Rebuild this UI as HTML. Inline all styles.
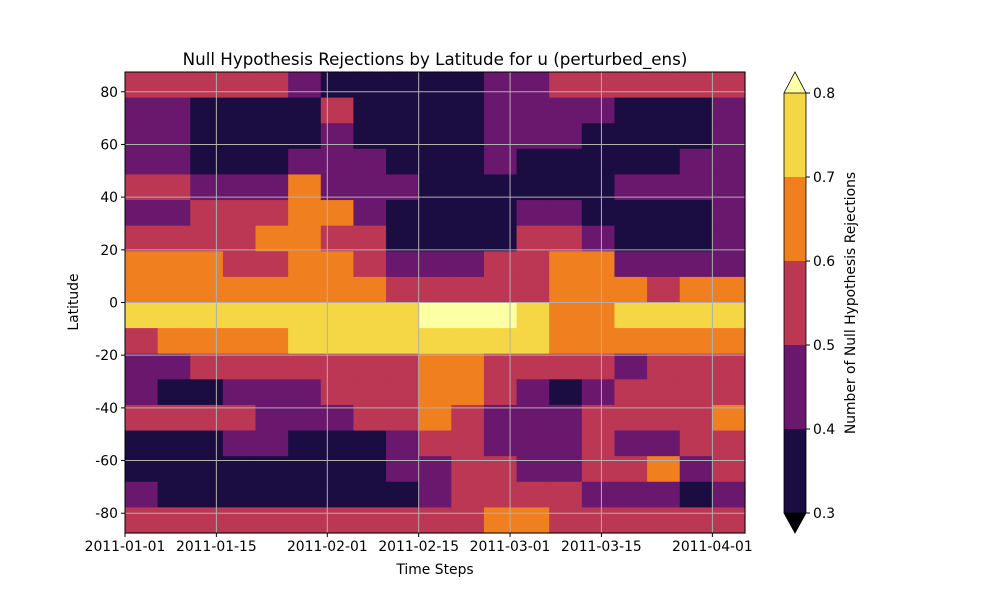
<!DOCTYPE html>
<html><head><meta charset="utf-8"><style>
body{margin:0;background:#fff;font-family:"DejaVu Sans","Liberation Sans",sans-serif;}
svg text{font-family:"DejaVu Sans","Liberation Sans",sans-serif;fill:#000;}
</style></head><body>
<svg id="chart" width="1000" height="600" xmlns="http://www.w3.org/2000/svg">
<text x="435" y="65" font-size="16.7" text-anchor="middle">Null Hypothesis Rejections by Latitude for u (perturbed_ens)</text>
<g id="plot"></g>
<g id="axes"></g>
<text x="435" y="574" font-size="13.9" text-anchor="middle">Time Steps</text>
<text x="78" y="302" font-size="13.9" text-anchor="middle" transform="rotate(-90 78 302)">Latitude</text>
<g id="cbar"></g>
<text x="855" y="303" font-size="13.9" text-anchor="middle" transform="rotate(-90 855 303)">Number of Null Hypothesis Rejections</text>
</svg>
<script>
// Data: rows from north (87.5) to south (-87.5), 18 bands; columns are 5-day steps from 2011-01-01
const latEdgesTop = 87.5, latEdgesBottom = -87.5;
const dayStart = 0, dayEnd = 95, dayStep = 5;
const rowCodes = [
"RRRRRPDDDDDPPRRRRRR",
"PPDDDDRDDDDPPPPDDDP",
"PPDDDDPDDDDPPPDDDDP",
"PPDDDPPPDDDPDDDDDPP",
"RRPPPOPPPDDDDDDPPPP",
"PPRRROOPDDDDPPDDDDP",
"RRRROORRDDDDRRPDDDP",
"OOORROORPPPRROOPPPP",
"OOOOOOOORRRRROOOROO",
"YYYYYYYYYLLLYOOYYYY",
"ROOOOYYYYYYYYOOOOOO",
"PPRRRRRRROORRRRPRRR",
"PDDPPPRRROORPDPRRRR",
"RRRRPPPRRORPPPRRRRO",
"DDDPPDDDPRRPPPRPPRR",
"DDDDDDDDPPRRPPRROPR",
"PDDDDDDDDPRRRRPPPDP",
"RRRRRRRRRRROORRRRRR"];
const codeValues = {D:0.35,P:0.45,R:0.55,O:0.65,Y:0.75,L:0.85};
const levels = [0.3,0.4,0.5,0.6,0.7,0.8];
const levelColors = ["#000004","#1b0c41","#6a176e","#bb3754","#f07f1f","#f5d745","#fcffa4"];
const yTicks = [-80,-60,-40,-20,0,20,40,60,80];
const xTickDays = [0,14,31,45,59,73,90];
const xTickLabels = ["2011-01-01","2011-01-15","2011-02-01","2011-02-15","2011-03-01","2011-03-15","2011-04-01"];
const cbTicks = [0.3,0.4,0.5,0.6,0.7,0.8];

const NS="http://www.w3.org/2000/svg";
const X0=125,X1=745,Y0=72,Y1=533;
const xs=d=>X0+(d-dayStart)/(dayEnd-dayStart)*(X1-X0);
const ys=l=>Y0+(latEdgesTop-l)/(latEdgesTop-latEdgesBottom)*(Y1-Y0);
function color(v){let i=0;while(i<levels.length&&v>=levels[i])i++;return levelColors[i];}
function mk(tag,attrs,parent){const e=document.createElementNS(NS,tag);for(const k in attrs)e.setAttribute(k,attrs[k]);parent.appendChild(e);return e;}
const plot=document.getElementById('plot'),axes=document.getElementById('axes'),cb=document.getElementById('cbar');
const nR=rowCodes.length,dl=(latEdgesTop-latEdgesBottom)/nR;
rowCodes.forEach((row,r)=>{
  [...row].forEach((c,i)=>{
    const v=codeValues[c];
    const la=latEdgesTop-r*dl, lb=la-dl, d0=dayStart+i*dayStep, d1=d0+dayStep;
    const e=mk('rect',{x:xs(d0),y:ys(la),width:xs(d1)-xs(d0)+0.6,height:ys(lb)-ys(la)+0.6,fill:color(v)},plot);
    
    
  });
});
xTickDays.forEach((d,i)=>{
  const g=mk('line',{x1:xs(d),x2:xs(d),y1:Y0,y2:Y1,stroke:'#b0b0b0','stroke-width':1},axes);
  
  mk('line',{x1:xs(d),x2:xs(d),y1:Y1,y2:Y1+4,stroke:'#000'},axes);
  const t=mk('text',{x:xs(d),y:Y1+18,'font-size':13.9,'text-anchor':'middle'},axes);
  t.textContent=xTickLabels[i];
  
});
yTicks.forEach(l=>{
  const g=mk('line',{x1:X0,x2:X1,y1:ys(l),y2:ys(l),stroke:'#b0b0b0','stroke-width':1},axes);
  
  mk('line',{x1:X0-4,x2:X0,y1:ys(l),y2:ys(l),stroke:'#000'},axes);
  const t=mk('text',{x:X0-7,y:ys(l)+5,'font-size':13.9,'text-anchor':'end'},axes);
  t.textContent=l;
  
});
mk('rect',{x:X0,y:Y0,width:X1-X0,height:Y1-Y0,fill:'none',stroke:'#000','stroke-width':1},axes);
const CX0=784,CX1=806,CT=93,CB=513,cy=v=>CB-(v-0.3)/(0.5)*(CB-CT);
for(let i=0;i<levels.length-1;i++){
  const e=mk('rect',{x:CX0,y:cy(levels[i+1]),width:CX1-CX0,height:cy(levels[i])-cy(levels[i+1]),fill:levelColors[i+1]},cb);
  
}
const up=mk('polygon',{points:`${CX0},${CT} ${(CX0+CX1)/2},72 ${CX1},${CT}`,fill:levelColors[6],stroke:'#000','stroke-width':0.8},cb);

const dn=mk('polygon',{points:`${CX0},${CB} ${(CX0+CX1)/2},533 ${CX1},${CB}`,fill:levelColors[0],stroke:'#000','stroke-width':0.8},cb);

mk('polyline',{points:`${CX0},${CT} ${CX0},${CB}`,stroke:'#000','stroke-width':0.8,fill:'none'},cb);
mk('polyline',{points:`${CX1},${CT} ${CX1},${CB}`,stroke:'#000','stroke-width':0.8,fill:'none'},cb);
cbTicks.forEach(v=>{
  mk('line',{x1:CX1,x2:CX1+4,y1:cy(v),y2:cy(v),stroke:'#000'},cb);
  const t=mk('text',{x:CX1+7,y:cy(v)+5,'font-size':13.9},cb);
  t.textContent=v.toFixed(1);
  
});
</script>
</body></html>
